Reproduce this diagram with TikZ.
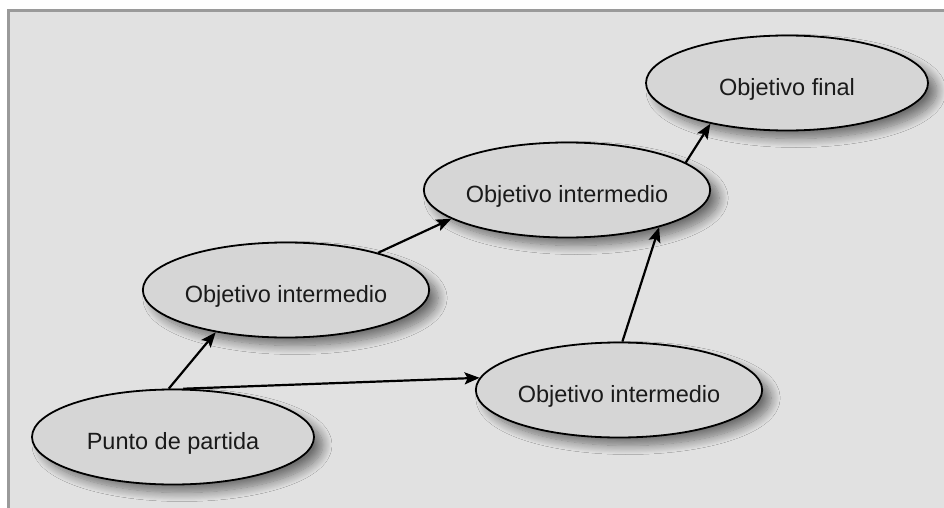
\documentclass[tikz,border=0pt]{standalone}
\usepackage{fontspec}
\setmainfont{Liberation Sans}
\usetikzlibrary{shapes.geometric,arrows.meta,shadows.blur}
\definecolor{bgfill}{HTML}{E1E1E1}
\definecolor{framec}{HTML}{9A9A9A}
\definecolor{ellfill}{HTML}{D6D6D6}
\definecolor{txtc}{HTML}{1A1A1A}
\tikzset{
  goalbox/.style={ellipse, draw=black, line width=1.8pt, fill=ellfill,
    minimum width=282pt, minimum height=95pt, inner sep=0pt,
    text=txtc, font=\fontsize{23.5}{27}\selectfont,
    text height=25pt, text depth=0pt,
    blur shadow={shadow xshift=9pt, shadow yshift=-8pt, shadow blur radius=9pt,
      shadow blur steps=12, shadow opacity=50}},
  link/.style={line width=2.2pt, -{Stealth[length=15pt,width=12pt,inset=3pt]}}
}
\begin{document}
\begin{tikzpicture}[x=1pt,y=-1pt]
\useasboundingbox (0,0) rectangle (944,508);
\fill[white] (0,0) rectangle (944,508);
\fill[bgfill] (8.5,10.5) rectangle (944,508);
\draw[framec, line width=2.5pt] (8.5,508) -- (8.5,10.5) -- (944,10.5);
\node[goalbox] (start) at (173,437) {Punto de partida};
\node[goalbox] (left) at (286,290) {Objetivo intermedio};
\node[goalbox] (mid) at (567,190) {Objetivo intermedio};
\node[goalbox] (right) at (619,390) {Objetivo intermedio};
\node[goalbox] (goal) at (787,83) {Objetivo final};
\draw[link] (start.95) -- (left.211);
\draw[link] (start.78) -- (right.175);
\draw[link] (left.22) -- (mid.194);
\draw[link] (right.86) -- (mid.-22);
\draw[link] (mid.13) -- (goal.208);
\end{tikzpicture}
\end{document}
